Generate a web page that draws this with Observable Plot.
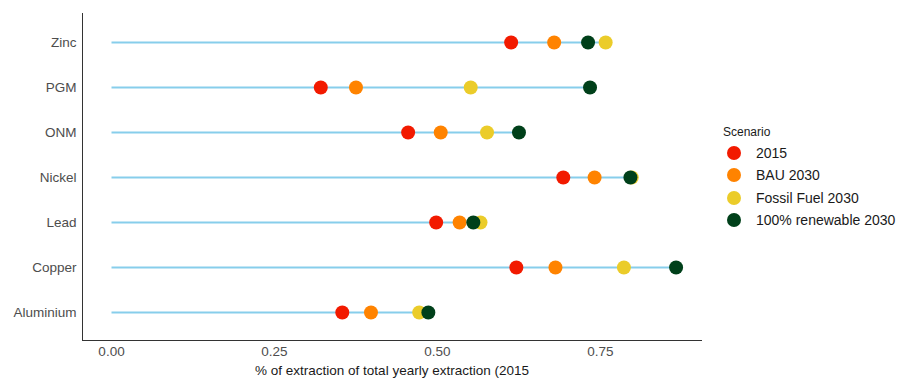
<!DOCTYPE html>
<html>
<head>
<meta charset="utf-8">
<script src="https://cdn.jsdelivr.net/npm/d3@7"></script>
<script src="https://cdn.jsdelivr.net/npm/@observablehq/plot@0.6"></script>
<style>
  html, body { margin: 0; padding: 0; background: #fff; }
  #wrap { position: relative; width: 900px; height: 378px; font-family: "Liberation Sans", Arial, sans-serif; }
  #legend { position: absolute; left: 723px; top: 124px; color: #1a1a1a; }
  #legend .title { font-size: 12px; height: 18px; line-height: 16px; }
  #legend .item { display: flex; align-items: center; height: 22.3px; font-size: 14px; }
  #legend .dot { width: 14px; height: 14px; border-radius: 50%; margin-left: 4px; margin-right: 15px; }
</style>
</head>
<body>
<div id="wrap"><div id="chart"></div><div id="legend"></div></div>
<script>
const metals = ["Zinc", "PGM", "ONM", "Nickel", "Lead", "Copper", "Aluminium"];
const scenarios = ["2015", "BAU 2030", "Fossil Fuel 2030", "100% renewable 2030"];
const colors = ["#F21A00", "#FF8300", "#EBCC2A", "#00401A"];
const v2015    = [0.613, 0.321, 0.455, 0.693, 0.498, 0.621, 0.354];
const vBau     = [0.679, 0.375, 0.505, 0.741, 0.534, 0.681, 0.398];
const vFossil  = [0.758, 0.551, 0.576, 0.798, 0.566, 0.786, 0.472];
const vRenew   = [0.731, 0.734, 0.625, 0.796, 0.555, 0.866, 0.486];
const xTicks = [0, 0.25, 0.5, 0.75];
const xLabel = "% of extraction of total yearly extraction (2015";

const series = [v2015, vBau, vFossil, vRenew];
const points = [];
series.forEach((vals, s) => vals.forEach((v, i) => points.push({metal: metals[i], scenario: scenarios[s], value: v})));
const segs = metals.map((m, i) => ({metal: m, max: Math.max(...series.map(a => a[i]))}));

const x0 = -0.0445, x1 = 0.905;

const chart = Plot.plot({
  width: 900,
  height: 378,
  marginLeft: 82,
  marginRight: 199,
  marginTop: 13,
  marginBottom: 38,
  style: {fontFamily: "Liberation Sans, Arial, sans-serif", fontSize: "13.5px", background: "#fff"},
  x: {domain: [x0, x1], ticks: xTicks, tickFormat: d3.format(".2f")},
  y: {type: "point", domain: metals, padding: 0.6},
  color: {domain: scenarios, range: colors},
  marks: [
    Plot.axisX({ticks: xTicks, tickFormat: d3.format(".2f"), tickSize: 0, tickPadding: 6, color: "#4D4D4D", label: xLabel, labelAnchor: "center", labelArrow: "none", labelOffset: 34}),
    Plot.axisY({tickSize: 0, tickPadding: 6, color: "#4D4D4D", label: null}),
    Plot.frame({anchor: "left", stroke: "#333", strokeWidth: 1}),
    Plot.frame({anchor: "bottom", stroke: "#333", strokeWidth: 1}),
    Plot.link(segs, {x1: () => 0, x2: "max", y1: "metal", y2: "metal", stroke: "#87CEEB", strokeWidth: 2}),
    Plot.dot(points, {x: "value", y: "metal", fill: "scenario", r: 7, stroke: null})
  ]
});
chart.querySelectorAll('[aria-label="x-axis label"] text, [aria-label="x-axis label"]').forEach(t => t.setAttribute("fill", "#1a1a1a"));
document.getElementById("chart").appendChild(chart);

const legend = document.getElementById("legend");
legend.innerHTML = '<div class="title">Scenario</div>' + scenarios.map((s, i) =>
  `<div class="item"><span class="dot" style="background:${colors[i]}"></span><span>${s}</span></div>`).join("");
</script>
</body>
</html>
